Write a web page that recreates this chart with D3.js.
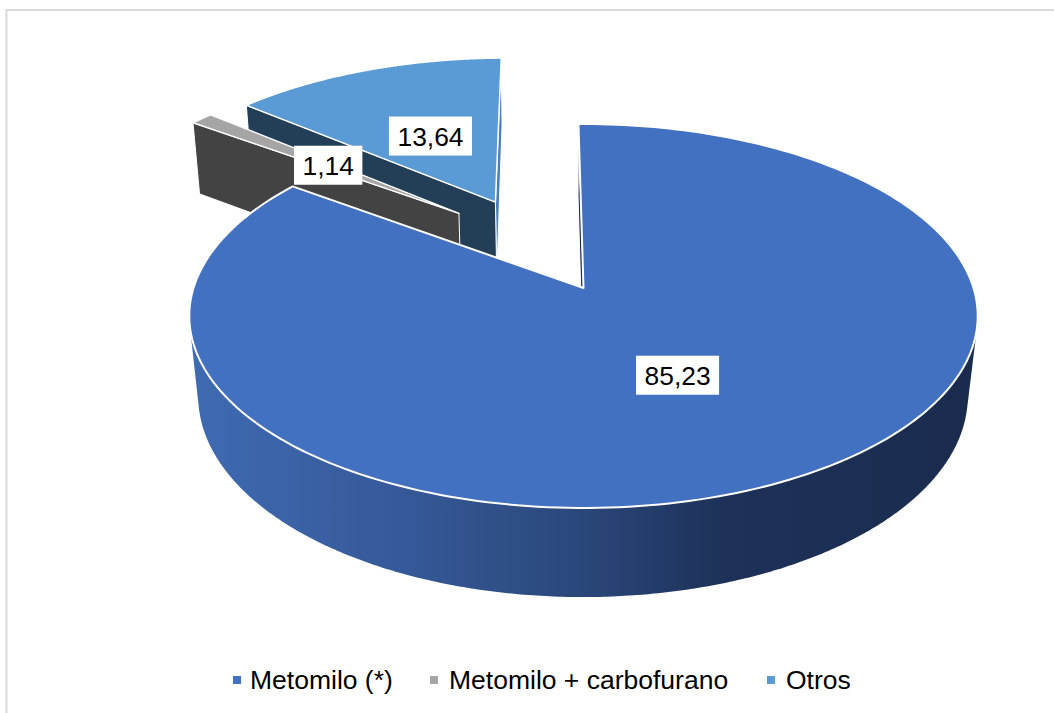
<!DOCTYPE html>
<html><head><meta charset="utf-8">
<script src="https://cdn.jsdelivr.net/npm/d3@7/dist/d3.min.js"></script>
<style>html,body{margin:0;padding:0;background:#fff}svg{display:block}text{font-family:"Liberation Sans",Arial,sans-serif;fill:#000}</style>
</head><body><svg id="c" width="1054" height="713"></svg>
<script>
const categories = ["Metomilo (*)", "Metomilo + carbofurano", "Otros"];
const values = [85.23, 1.14, 13.64];
const labels = ["85,23", "1,14", "13,64"];

// styling and layout, separate from the data
const topColors = ["#4371c1", "#a5a5a5", "#5b9bd5"];
const wallColors = ["#1a2c4e", "#434343", "#233f58"];
const sideColors = ["#1a2c4e", "#a5a5a5", "#4a7eb6"];
const explodeSize = [0, 0.541, 0.546];
const explodeAngle = [0, 321.2, 333.7];
const labelRadius = [0.49, 0.488, 0.473];
const legendMarkX = [233, 430, 767];
const legendTextX = [250, 449, 786];
const topPlane = {x: 583.5, y: 288, r: 390, h: 187.9, p: 0.1458};
const basePlane = {x: 583, y: 368, r: 381, h: 197, p: 0.14};
const rad = Math.PI / 180;

const svg = d3.select("#c");
const defs = svg.append("defs");
const grad = defs.append("linearGradient").attr("id", "wall")
  .attr("gradientUnits", "userSpaceOnUse").attr("x1", 190).attr("x2", 978).attr("y1", 0).attr("y2", 0);
[[0, "#3f6bb1"], [0.25, "#365a9b"], [0.5, "#2a4779"], [0.68, "#1d3159"], [1, "#1a2b4d"]]
  .forEach(([o, c]) => grad.append("stop").attr("offset", o).attr("stop-color", c));

// frame
svg.append("path").attr("d", "M6.4,713V10H1054").attr("fill", "none").attr("stroke", "#d9d9d9").attr("stroke-width", 2);

const pie = d3.pie().sort(null).startAngle(-0.85 * rad).endAngle((360 - 0.85) * rad);
const arcs = pie(values);
const project = (u, v, pl) => { const w = 1 + pl.p * v; return [pl.x + pl.r * u / w, pl.y - pl.h * v / w]; };
const line = d3.line();
const off = i => [explodeSize[i] * Math.sin(explodeAngle[i] * rad), explodeSize[i] * Math.cos(explodeAngle[i] * rad)];
const rim = (i, a, pl) => { const o = off(i); return project(o[0] + Math.sin(a), o[1] + Math.cos(a), pl); };
const apex = (i, pl) => { const o = off(i); return project(o[0], o[1], pl); };
const sweep = (d, n) => d3.range(n + 1).map(k => d.startAngle + (d.endAngle - d.startAngle) * k / n);
const topFace = i => line([apex(i, topPlane), ...sweep(arcs[i], 240).map(a => rim(i, a, topPlane))]) + "Z";
const radialWall = (i, a) => line([rim(i, a, topPlane), apex(i, topPlane), apex(i, basePlane), rim(i, a, basePlane)]) + "Z";

function wall(i, a, color) {
  svg.append("path").attr("d", radialWall(i, a)).attr("fill", color)
    .attr("stroke", "#fff").attr("stroke-width", 1).attr("stroke-linejoin", "round");
}
function face(i, sw) {
  svg.append("path").attr("d", topFace(i)).attr("fill", topColors[i])
    .attr("stroke", "#fff").attr("stroke-width", sw).attr("stroke-linejoin", "round");
}

// Otros
wall(2, arcs[2].endAngle, sideColors[2]);
wall(2, arcs[2].startAngle, wallColors[2]);
face(2, 1.5);
// Metomilo + carbofurano
wall(1, arcs[1].startAngle, wallColors[1]);
face(1, 1.5);
// Metomilo: start wall, then the front of the drum as a hull so its silhouette runs between the two rims
wall(0, arcs[0].startAngle, wallColors[0]);
const front = sweep({startAngle: 98.4 * rad, endAngle: 261.6 * rad}, 300);
const hull = d3.polygonHull([...front.map(a => rim(0, a, topPlane)), ...front.map(a => rim(0, a, basePlane))]);
svg.append("path").attr("d", line(hull) + "Z").attr("fill", "url(#wall)");
face(0, 2);

// data labels
arcs.forEach((d, i) => {
  const m = (d.startAngle + d.endAngle) / 2, o = off(i);
  const [x, y] = project(o[0] + labelRadius[i] * Math.sin(m), o[1] + labelRadius[i] * Math.cos(m), topPlane);
  const g = svg.append("g").attr("transform", `translate(${x},${y})`);
  const t = g.append("text").attr("text-anchor", "middle").attr("y", 9.5).attr("font-size", 26.4).text(labels[i]);
  const w = t.node().getComputedTextLength() + 17;
  g.insert("rect", "text").attr("x", -w / 2).attr("y", -19.5).attr("width", w).attr("height", 39).attr("fill", "#fff");
});

// legend
categories.forEach((c, i) => {
  svg.append("rect").attr("x", legendMarkX[i]).attr("y", 676).attr("width", 8).attr("height", 8).attr("fill", topColors[i]);
  svg.append("text").attr("x", legendTextX[i]).attr("y", 689).attr("font-size", 26.5).text(c);
});
</script></body></html>
